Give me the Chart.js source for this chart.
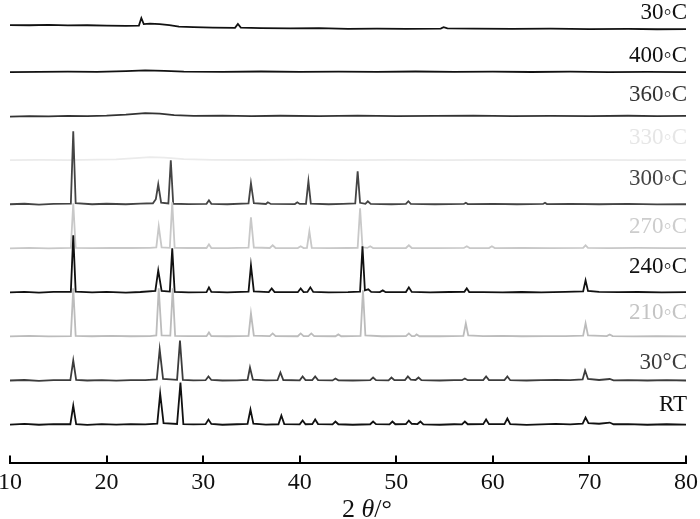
<!DOCTYPE html>
<html>
<head>
<meta charset="utf-8">
<script src="https://cdn.jsdelivr.net/npm/chart.js@4"></script>
<style>
  html, body { margin: 0; padding: 0; background: #fff; }
  #wrap { width: 700px; height: 519px; position: relative; }
</style>
</head>
<body>
<div id="wrap"><canvas id="xrd"></canvas></div>
<script>
// 2θ (deg), intensity above own baseline (a.u.), bottom trace first
const RT = [
  [10,0],[11.5,0.6],[13,-0.2],[14.5,0.4],[16.25,0.3],[16.55,19],[16.85,0.5],[18,-0.3],[19.5,0.4],[21,0],
  [22.5,0.5],[24,0.2],[25.25,1],[25.55,31],[25.9,1.5],[27.3,0.6],[27.65,42],[27.95,0.5],[29,0.2],
  [30.25,0.4],[30.55,5],[30.85,0.6],[32,-0.2],[33.5,0.3],[34.6,0.6],[34.9,15],[35.2,0.8],[36.5,0],
  [37.8,0.3],[38.1,9],[38.4,0.5],[40,0.2],[40.3,4],[40.6,0.3],[41.3,0.4],[41.6,5],[41.9,0.5],
  [43.4,0.1],[43.7,3],[44,0.3],[45.5,-0.2],[47.3,0.3],[47.6,3],[47.9,0.4],[49.3,0.1],[49.6,3],[49.9,0.3],
  [51,0.4],[51.3,4],[51.6,0.8],[52.2,0.5],[52.5,3],[52.8,0.2],[54.5,-0.2],[56,0.3],[56.8,0.2],[57.1,3],
  [57.4,0.3],[59,0.4],[59.3,5],[59.6,0.4],[61.2,0.5],[61.5,6],[61.8,0.4],[63.5,-0.3],[65,0.2],[66.5,0.6],
  [68,0.2],[69.3,0.8],[69.6,7],[69.9,1.5],[71,0.8],[72.1,2],[72.5,0.3],[74,0.5],[76,-0.2],[78,0.3],[80,0]
];
const T30 = [
  [10,0],[11.5,0.5],[13,-0.3],[14.5,0.3],[16.25,0.3],[16.55,20],[16.85,0.5],[18,0],[19.5,0.4],[21,-0.2],
  [22.5,0.4],[24,0.3],[25.2,1],[25.5,31],[25.85,1.5],[27.3,0.6],[27.6,40],[27.9,0.5],[29,0.2],
  [30.25,0.3],[30.55,4],[30.85,0.5],[32,0],[33.5,0.2],[34.6,0.5],[34.85,13],[35.15,0.8],[36.5,0.1],
  [37.7,0.3],[38,8],[38.3,0.5],[40,0.2],[40.3,4],[40.6,0.4],[41.3,0.5],[41.6,4],[41.9,0.4],
  [43.4,0.1],[43.7,2],[44,0.2],[45.5,0],[47.3,0.3],[47.6,3],[47.9,0.4],[49.2,0.2],[49.5,3],[49.8,0.3],
  [50.9,0.4],[51.2,4],[51.5,0.8],[52,0.5],[52.3,3],[52.6,0.3],[54.5,0],[56,0.3],[56.8,0.3],[57.1,2],
  [57.4,0.3],[59,0.4],[59.3,4],[59.6,0.4],[61.2,0.5],[61.5,4],[61.8,0.3],[63.5,0],[65,0.3],[66.5,0.5],
  [68,0.3],[69.3,1],[69.55,10],[69.85,1.5],[71,0.5],[72.1,1.5],[72.5,0.2],[74,0.4],[76,0],[78,0.3],[80,0]
];
const T210 = [
  [10,0],[12,0.5],[14,0],[16.3,0.3],[16.55,48],[16.8,0.5],[18.5,0.2],[20.5,0.5],[22.5,0.2],[24.5,0.4],
  [25.15,1],[25.4,48],[25.7,1],[26.6,0.8],[26.85,48],[27.1,0.5],[28.5,0.3],[30.35,0.3],[30.6,4],[30.85,0.3],
  [32.5,0.2],[34.7,0.6],[34.95,23],[35.25,0.8],[36.9,0.3],[37.2,3],[37.5,0.3],[39.8,0.2],[40.1,3],[40.4,0.3],
  [40.9,0.3],[41.2,3],[41.5,0.3],[43.7,0.2],[44,2],[44.3,0.2],[46.3,0.5],[46.55,46],[46.8,1],[48.5,0.2],
  [51,0.3],[51.3,3],[51.6,0.3],[51.9,0.3],[52.1,2],[52.4,0.2],[54.5,0.2],[56.95,0.5],[57.2,13],[57.45,1],
  [59,0.3],[61,0.5],[63,0.2],[65.5,0.3],[67.5,0.4],[69.35,0.8],[69.6,13],[69.85,1],[71.8,0.3],[72.1,2],
  [72.4,0.3],[74.5,0],[77,0.3],[80,0]
];
const T240 = [
  [10,0],[11.5,0.6],[13,-0.3],[14.5,0.5],[16.3,0.5],[16.55,57],[16.8,0.8],[18.5,0],[20,0.5],[22,-0.2],
  [23.5,0.4],[25.05,1.5],[25.35,22],[25.7,1.5],[26.55,0.8],[26.8,44],[27.05,0.5],[28.5,0],[30.35,0.3],
  [30.6,5],[30.85,0.5],[32.5,0],[34.7,0.8],[34.95,27],[35.25,1],[36.8,0.3],[37.1,4],[37.4,0.3],[39.8,0.2],
  [40.1,4],[40.4,0.3],[40.8,0.4],[41.1,5],[41.4,0.5],[43,0],[45,0.3],[46.25,0.8],[46.5,46],[46.75,2],
  [47.1,3],[47.4,0.5],[48.3,0.3],[48.6,2],[48.9,0.2],[51,0.3],[51.3,5],[51.6,0.4],[53.5,0],[55.5,0.4],
  [57.05,0.5],[57.3,4],[57.55,0.4],[59,0.3],[61,0],[63,0.4],[65,0.1],[67.5,0.5],[69.35,1],[69.6,12],
  [69.85,1.5],[71,0.6],[73,0.3],[75,0.4],[77.5,0],[80,0.2]
];
const T270 = [
  [10,0],[12,0.4],[14,0],[16.3,0.4],[16.55,45],[16.8,0.5],[18.5,0.2],[20.5,0.5],[22.5,0.3],[24.5,0.5],
  [25.15,1],[25.4,22],[25.7,1],[26.55,0.5],[26.8,46],[27.05,0.5],[28.5,0.3],[30.35,0.3],[30.6,4],[30.85,0.3],
  [32.5,0.2],[34.7,0.6],[34.95,31],[35.25,0.8],[36.9,0.3],[37.2,3],[37.5,0.3],[39.8,0.2],[40.1,2],[40.4,0.2],
  [40.75,0.4],[41,17],[41.25,0.5],[43,0.2],[45,0.3],[46,0.5],[46.25,40],[46.5,1],[47,0.4],[47.3,2],
  [47.6,0.3],[49.5,0.2],[51,0.3],[51.3,3],[51.6,0.3],[54,0.2],[57,0.4],[57.3,2],[57.6,0.3],[59.6,0.2],
  [59.9,2],[60.2,0.2],[63,0.3],[66,0.2],[69.35,0.5],[69.6,3],[69.85,0.5],[72,0.2],[75,0.4],[78,0.1],[80,0.2]
];
const T300 = [
  [10,0],[11.5,0.5],[13,-0.3],[14.5,0.4],[16.3,0.6],[16.55,73],[16.8,1],[18.5,0],[20,0.5],[22,0],
  [23.5,0.6],[24.8,1],[25.1,5],[25.35,20],[25.65,1.5],[26.4,0.8],[26.65,44],[26.9,0.5],[28.5,0.2],
  [30.35,0.4],[30.6,4],[30.85,0.4],[32.5,0],[34.7,0.8],[34.95,21],[35.25,1],[36.5,0.3],[36.7,2],[37,0.3],
  [39.5,0.2],[39.75,2],[40,0.3],[40.65,0.5],[40.9,23],[41.15,0.6],[43,0],[44.5,0.4],[45.75,0.8],[46,33],
  [46.25,1.5],[46.8,0.5],[47.05,3],[47.35,0.4],[49.5,0],[51,0.4],[51.25,3],[51.5,0.4],[54,0],[57,0.3],
  [57.2,1.5],[57.4,0.2],[60,0.4],[62.5,0],[65.2,0.3],[65.4,1.5],[65.6,0.2],[68,0.4],[71,0],[74,0.3],
  [77,-0.2],[80,0]
];
const T330 = [
  [10,0],[13,0.3],[16,0],[19,0.5],[21,0.8],[23,2],[24.5,3],[26,2.5],[28,1],[31,0.4],[35,0.2],[40,0.5],
  [45,0.1],[50,0.4],[55,0],[60,0.3],[65,0],[70,0.3],[75,0],[80,0.2]
];
const T360 = [
  [10,-0.5],[12,0],[14,-0.3],[16,0.2],[18,0],[20,0.5],[22,1.5],[24,3],[25.5,2.5],[27,1],[29,0.3],[32,0.5],
  [35,0],[38,0.4],[42,0.1],[46,0.5],[50,0],[54,0.3],[58,0.6],[62,0],[66,0.3],[70,0],[74,0.4],[77,0.1],[80,0.2]
];
const T400 = [
  [10,0],[13,0.2],[16,0.5],[19,0.3],[22,1],[24,1.8],[26,1.2],[28,0.5],[32,0.3],[36,0.6],[40,0.2],[44,0.5],
  [48,0.3],[52,0.6],[56,0.2],[60,0.4],[64,0.1],[68,0.4],[72,0],[76,0.3],[80,0]
];
const T30_COOLED = [
  [10,3],[12,2.8],[14,3.2],[16,2.6],[18,2.8],[20,2.4],[22,2.2],[23.35,2.5],[23.6,10],[23.85,4],[24.5,4.5],
  [25.5,4],[26.5,3],[27.5,1.5],[29,1],[31,0.5],[33.3,0.2],[33.6,4],[33.9,0.5],[36,0],[39,-0.3],[42,0],
  [45,-0.8],[48,-0.5],[51,-0.8],[54.6,-0.5],[54.9,0.8],[55.3,-0.3],[58,-0.5],[62,-0.8],[66,-0.6],[70,-1],
  [74,-0.8],[77,-1.2],[80,-1]
];

const SERIES = [RT, T30, T210, T240, T270, T300, T330, T360, T400, T30_COOLED];
const LABELS = ["RT", "30°C", "210◦C", "240◦C", "270◦C", "300◦C", "330◦C", "360◦C", "400◦C", "30◦C"];
const X_TICKS = [10, 20, 30, 40, 50, 60, 70, 80];

const COLORS = ["#111", "#3c3c3c", "#bcbcbc", "#111", "#c8c8c8", "#444", "#ebebeb", "#333", "#111", "#111"];
const LABEL_COLORS = ["#111", "#3c3c3c", "#c4c4c4", "#111", "#cdcdcd", "#444", "#e6e6e6", "#333", "#111", "#111"];
const LABEL_LIFT = [20, 18, 23, 25, 21, 25, 22, 21, 16, 15];
const FIRST_BASE = 38;
const STEP = 44;
const SERIF = "'Liberation Serif', 'Times New Roman', serif";

const datasets = SERIES.map((pts, i) => ({
    label: LABELS[i],
    data: pts.map(([x, y]) => ({ x, y: y + FIRST_BASE + STEP * i })),
    borderColor: COLORS[i],
    borderWidth: 1.8,
    pointRadius: 0,
    tension: 0,
    fill: false,
}));

const overlay = {
    id: "overlay",
    afterDraw(chart) {
        const { ctx, chartArea, scales } = chart;
        const x = scales.x, y = scales.y;
        ctx.save();

        // inward tick marks
        ctx.strokeStyle = "#000";
        ctx.lineWidth = 2;
        for (const v of X_TICKS) {
            const px = Math.round(x.getPixelForValue(v));
            ctx.beginPath();
            ctx.moveTo(px, chartArea.bottom);
            ctx.lineTo(px, chartArea.bottom - 7);
            ctx.stroke();
        }

        // trace labels
        ctx.font = "23px " + SERIF;
        ctx.textAlign = "right";
        ctx.textBaseline = "middle";
        LABELS.forEach((lab, i) => {
            ctx.fillStyle = LABEL_COLORS[i];
            ctx.fillText(lab, chartArea.right + 1, y.getPixelForValue(FIRST_BASE + STEP * i + LABEL_LIFT[i]));
        });

        // axis title 2θ/°
        const parts = [["2 ", ""], ["θ", "italic "], ["/°", ""]];
        let total = 0;
        for (const [t, st] of parts) {
            ctx.font = st + "26px " + SERIF;
            total += ctx.measureText(t).width;
        }
        let cx = 367 - total / 2;
        ctx.textAlign = "left";
        ctx.fillStyle = "#111";
        for (const [t, st] of parts) {
            ctx.font = st + "26px " + SERIF;
            ctx.fillText(t, cx, 510);
            cx += ctx.measureText(t).width;
        }
        ctx.restore();
    },
};

new Chart(document.getElementById("xrd"), {
    type: "line",
    data: { datasets },
    options: {
        responsive: true,
        maintainAspectRatio: false,
        animation: false,
        layout: { padding: { top: 0, left: 10, right: 14, bottom: 15.6 } },
        plugins: { legend: { display: false }, tooltip: { enabled: false }, title: { display: false } },
        scales: {
            x: {
                type: "linear",
                min: 10,
                max: 80,
                grid: { display: false, drawTicks: false },
                border: { display: true, color: "#000", width: 2 },
                ticks: {
                    stepSize: 10,
                    padding: 6,
                    color: "#111",
                    font: { family: SERIF, size: 24 },
                    maxRotation: 0,
                },
                afterFit(scale) {
                    // the layout padding already leaves room for the edge labels
                    scale.paddingLeft = 0;
                    scale.paddingRight = 0;
                },
            },
            y: { display: false, min: 0, max: 462 },
        },
    },
    plugins: [overlay],
});
</script>
</body>
</html>
